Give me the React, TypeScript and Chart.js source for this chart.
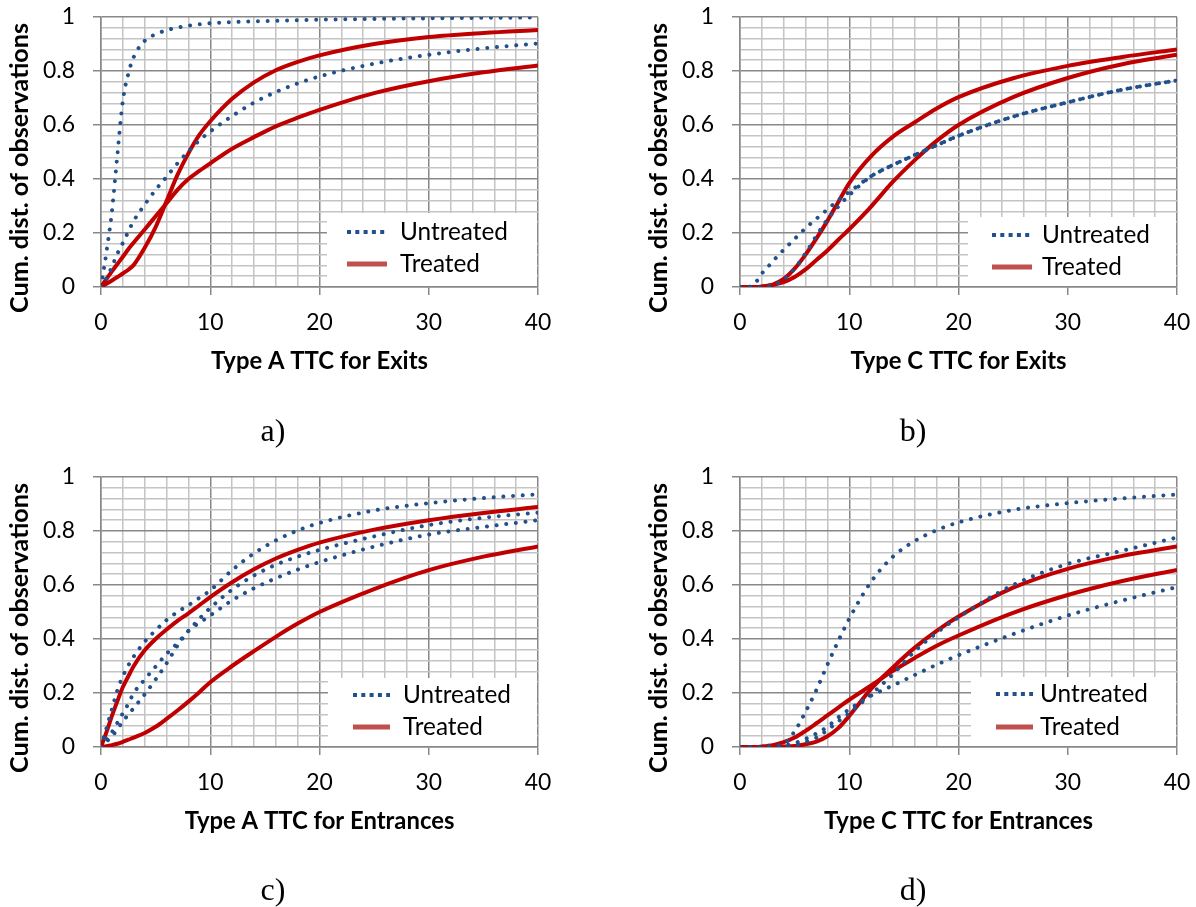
import React, { useEffect, useRef } from 'react';
import { Chart, registerables } from 'chart.js';

Chart.register(...registerables);

// ---------------- data ----------------
const X_VALUES = [0, 0.5, 1, 1.5, 2, 2.5, 3, 4, 5, 6, 7, 8, 9, 10, 12, 14, 16, 18, 20, 25, 30, 35, 40];

// a) Type A TTC for Exits
const A_UNTREATED_1 = [0, 0.13, 0.28, 0.49, 0.69, 0.79, 0.852, 0.912, 0.936, 0.951, 0.961, 0.968, 0.973, 0.977, 0.981, 0.984, 0.986, 0.988, 0.99, 0.993, 0.995, 0.997, 0.998];
const A_UNTREATED_2 = [0, 0.03, 0.075, 0.123, 0.163, 0.205, 0.245, 0.305, 0.36, 0.408, 0.458, 0.502, 0.543, 0.576, 0.633, 0.683, 0.722, 0.754, 0.78, 0.827, 0.86, 0.884, 0.902];
const A_TREATED_1 = [0, 0.012, 0.024, 0.037, 0.05, 0.064, 0.082, 0.145, 0.222, 0.318, 0.415, 0.495, 0.563, 0.614, 0.697, 0.758, 0.803, 0.834, 0.858, 0.9, 0.926, 0.941, 0.952];
const A_TREATED_2 = [0, 0.03, 0.058, 0.085, 0.112, 0.14, 0.165, 0.213, 0.262, 0.31, 0.36, 0.4, 0.43, 0.458, 0.512, 0.555, 0.595, 0.627, 0.656, 0.718, 0.762, 0.795, 0.82];

// b) Type C TTC for Exits
const B_UNTREATED_1 = [0, 0, 0.003, 0.02, 0.05, 0.072, 0.095, 0.138, 0.178, 0.218, 0.253, 0.287, 0.322, 0.352, 0.41, 0.452, 0.489, 0.525, 0.56, 0.631, 0.684, 0.731, 0.765];
const B_UNTREATED_2 = [0, 0, 0, 0, 0, 0.002, 0.006, 0.028, 0.068, 0.125, 0.19, 0.25, 0.298, 0.34, 0.41, 0.452, 0.489, 0.525, 0.56, 0.631, 0.684, 0.731, 0.765];
const B_TREATED_1 = [0, 0, 0, 0, 0.001, 0.004, 0.009, 0.03, 0.068, 0.12, 0.18, 0.245, 0.315, 0.385, 0.485, 0.557, 0.61, 0.661, 0.703, 0.773, 0.819, 0.852, 0.88];
const B_TREATED_2 = [0, 0, 0, 0, 0.002, 0.005, 0.008, 0.018, 0.037, 0.065, 0.1, 0.135, 0.175, 0.214, 0.298, 0.39, 0.47, 0.541, 0.6, 0.703, 0.774, 0.825, 0.86];

// c) Type A TTC for Entrances
const C_UNTREATED_1 = [0, 0.07, 0.14, 0.21, 0.262, 0.302, 0.335, 0.39, 0.432, 0.47, 0.5, 0.525, 0.552, 0.58, 0.655, 0.717, 0.765, 0.802, 0.83, 0.876, 0.903, 0.922, 0.936];
const C_UNTREATED_2 = [0, 0.03, 0.055, 0.09, 0.125, 0.16, 0.2, 0.25, 0.298, 0.345, 0.385, 0.43, 0.475, 0.515, 0.583, 0.635, 0.675, 0.705, 0.73, 0.78, 0.822, 0.849, 0.868];
const C_UNTREATED_3 = [0, 0.02, 0.04, 0.065, 0.095, 0.12, 0.145, 0.195, 0.25, 0.31, 0.375, 0.43, 0.46, 0.487, 0.543, 0.588, 0.625, 0.657, 0.685, 0.742, 0.787, 0.815, 0.84];
const C_TREATED_1 = [0, 0.055, 0.115, 0.17, 0.222, 0.262, 0.3, 0.358, 0.4, 0.435, 0.467, 0.495, 0.525, 0.555, 0.61, 0.658, 0.698, 0.73, 0.757, 0.805, 0.84, 0.867, 0.889];
const C_TREATED_2 = [0, 0.003, 0.007, 0.012, 0.019, 0.027, 0.035, 0.052, 0.075, 0.104, 0.135, 0.168, 0.203, 0.24, 0.3, 0.355, 0.408, 0.457, 0.5, 0.585, 0.655, 0.705, 0.743];

// d) Type C TTC for Entrances
const D_UNTREATED_1 = [0, 0, 0, 0, 0, 0.002, 0.005, 0.012, 0.058, 0.13, 0.212, 0.305, 0.393, 0.475, 0.612, 0.705, 0.763, 0.803, 0.832, 0.878, 0.903, 0.921, 0.935];
const D_UNTREATED_2 = [0, 0, 0, 0, 0, 0, 0, 0.002, 0.006, 0.018, 0.035, 0.063, 0.095, 0.125, 0.195, 0.27, 0.355, 0.423, 0.48, 0.6, 0.678, 0.727, 0.776];
const D_UNTREATED_3 = [0, 0, 0, 0, 0, 0, 0.001, 0.005, 0.014, 0.03, 0.05, 0.075, 0.11, 0.14, 0.19, 0.228, 0.267, 0.305, 0.34, 0.418, 0.487, 0.543, 0.592];
const D_TREATED_1 = [0, 0, 0, 0, 0.002, 0.004, 0.007, 0.018, 0.035, 0.06, 0.088, 0.117, 0.146, 0.175, 0.228, 0.282, 0.33, 0.375, 0.413, 0.497, 0.563, 0.615, 0.656];
const D_TREATED_2 = [0, 0, 0, 0, 0, 0, 0.001, 0.002, 0.004, 0.01, 0.02, 0.04, 0.07, 0.115, 0.215, 0.295, 0.368, 0.43, 0.483, 0.59, 0.66, 0.708, 0.743];

const LEGEND_LABELS = ['Untreated', 'Treated'];
const Y_TITLE = 'Cum. dist. of observations';
const X_TITLES = ['Type A TTC for Exits', 'Type C TTC for Exits', 'Type A TTC for Entrances', 'Type C TTC for Entrances'];
const CAPTIONS = ['a)', 'b)', 'c)', 'd)'];
const X_MIN = 0;
const X_MAX = 40;
const X_STEP = 2;
const X_LABEL_STEP = 10;
const Y_MIN = 0;
const Y_MAX = 1;
const Y_STEP = 0.04;
const Y_LABEL_STEP = 0.2;

const PANELS = [
  { title: X_TITLES[0], untreated: [A_UNTREATED_1, A_UNTREATED_2], treated: [A_TREATED_1, A_TREATED_2] },
  { title: X_TITLES[1], untreated: [B_UNTREATED_1, B_UNTREATED_2], treated: [B_TREATED_1, B_TREATED_2] },
  { title: X_TITLES[2], untreated: [C_UNTREATED_1, C_UNTREATED_2, C_UNTREATED_3], treated: [C_TREATED_1, C_TREATED_2] },
  { title: X_TITLES[3], untreated: [D_UNTREATED_1, D_UNTREATED_2, D_UNTREATED_3], treated: [D_TREATED_1, D_TREATED_2] },
];

// ---------------- layout / style ----------------
const CW = 598;
const CH = 453;
const LAYOUT = [
  { ox: 0, oy: 0, left: 101, right: 538, top: 17, bottom: 287, lg: { box: [226, -74], sx: [246, 286], tx: 299, rows: [-55, -23] } },
  { ox: 598, oy: 0, left: 142, right: 579, top: 17, bottom: 287, lg: { box: [228, -70], sx: [252, 292], tx: 302, rows: [-52, -20] } },
  { ox: 0, oy: 453, left: 101, right: 538, top: 24, bottom: 294, lg: { box: [227, -69], sx: [252, 289], tx: 302, rows: [-52, -20] } },
  { ox: 598, oy: 453, left: 142, right: 579, top: 24, bottom: 294, lg: { box: [231, -70], sx: [256, 293], tx: 300, rows: [-53, -20] } },
];
const CAPTION_POS = [[273, 430], [913, 430], [273, 889], [913, 889]];

const FONT = 'Lato, "Noto Sans", sans-serif';
const BLUE = '#21508c';
const RED = '#c00000';
const LEGEND_RED = '#c0504d';
const MAJOR = '#888888';
const MINOR = '#c4c4c4';

function fitSize(text: string, weight: string, target: number) {
  const c = document.createElement('canvas').getContext('2d')!;
  c.font = `${weight} 100px ${FONT}`;
  return (100 * target) / c.measureText(text).width;
}

const isMultiple = (v: number, step: number) => Math.abs(v / step - Math.round(v / step)) < 1e-6;

function Panel({ idx }: { idx: number }) {
  const ref = useRef<HTMLCanvasElement>(null);
  useEffect(() => {
    const L = LAYOUT[idx];
    const P = PANELS[idx];
    const tickSize = fitSize('0.8', 'normal', 32);
    const xTitleSize = fitSize(X_TITLES[0], 'bold', 217);
    const yTitleSize = fitSize(Y_TITLE, 'bold', 290);
    const legendSize = fitSize(LEGEND_LABELS[0], 'normal', 108);

    const datasets: any[] = [];
    P.untreated.forEach((ys) => {
      datasets.push({
        data: X_VALUES.map((x, i) => ({ x, y: ys[i] })),
        borderColor: BLUE,
        borderWidth: 4,
        borderDash: [0.01, 9.7],
        borderCapStyle: 'round',
        pointRadius: 0,
        cubicInterpolationMode: 'monotone',
        fill: false,
      });
    });
    P.treated.forEach((ys) => {
      datasets.push({
        data: X_VALUES.map((x, i) => ({ x, y: ys[i] })),
        borderColor: RED,
        borderWidth: 4,
        borderCapStyle: 'butt',
        pointRadius: 0,
        cubicInterpolationMode: 'monotone',
        fill: false,
      });
    });

    const decor = {
      id: 'decor',
      afterDraw(chart: any) {
        const { ctx, chartArea: ca } = chart;
        ctx.save();
        ctx.fillStyle = '#000';
        // y title
        ctx.save();
        ctx.translate(ca.left - 81, (ca.top + ca.bottom) / 2 + 16);
        ctx.rotate(-Math.PI / 2);
        ctx.font = `bold ${yTitleSize}px ${FONT}`;
        ctx.textAlign = 'center';
        ctx.textBaseline = 'middle';
        ctx.fillText(Y_TITLE, 0, 0);
        ctx.restore();
        // x title
        ctx.font = `bold ${xTitleSize}px ${FONT}`;
        ctx.textAlign = 'center';
        ctx.textBaseline = 'alphabetic';
        ctx.fillText(P.title, (ca.left + ca.right) / 2, ca.bottom + 82);
        // legend
        const lg = L.lg;
        const bx = ca.left + lg.box[0];
        const by = ca.bottom + lg.box[1];
        ctx.fillStyle = '#fff';
        ctx.fillRect(bx, by, ca.right - 1 - bx, ca.bottom - 1 - by);
        const y1 = ca.bottom + lg.rows[0];
        const y2 = ca.bottom + lg.rows[1];
        ctx.lineWidth = 4;
        ctx.strokeStyle = BLUE;
        ctx.setLineDash([4, 4.3]);
        ctx.lineCap = 'butt';
        ctx.beginPath();
        ctx.moveTo(ca.left + lg.sx[0], y1);
        ctx.lineTo(ca.left + lg.sx[1], y1);
        ctx.stroke();
        ctx.setLineDash([]);
        ctx.lineWidth = 5;
        ctx.strokeStyle = LEGEND_RED;
        ctx.beginPath();
        ctx.moveTo(ca.left + lg.sx[0], y2);
        ctx.lineTo(ca.left + lg.sx[1], y2);
        ctx.stroke();
        ctx.fillStyle = '#000';
        ctx.font = `${legendSize}px ${FONT}`;
        ctx.textAlign = 'left';
        ctx.textBaseline = 'middle';
        ctx.fillText(LEGEND_LABELS[0], ca.left + lg.tx, y1);
        ctx.fillText(LEGEND_LABELS[1], ca.left + lg.tx, y2);
        ctx.restore();
      },
    };

    const chart = new Chart(ref.current!, {
      type: 'line',
      data: { datasets },
      options: {
        animation: false,
        responsive: false,
        maintainAspectRatio: false,
        events: [],
        layout: { padding: { left: 0, top: L.top, right: CW - L.right, bottom: 0 } },
        plugins: { legend: { display: false }, tooltip: { enabled: false } },
        scales: {
          x: {
            type: 'linear',
            min: X_MIN,
            max: X_MAX,
            afterFit: (s: any) => {
              s.height = CH - L.bottom;
              s.paddingLeft = 0;
              s.paddingRight = 0;
            },
            ticks: {
              stepSize: X_STEP,
              autoSkip: false,
              maxRotation: 0,
              maxTicksLimit: 100,
              padding: 14,
              color: '#000',
              font: { family: FONT, size: tickSize },
              callback: (v: any) => (isMultiple(v, X_LABEL_STEP) ? String(v) : ''),
            },
            grid: {
              color: (c: any) => (c.tick && isMultiple(c.tick.value, X_LABEL_STEP) ? MAJOR : MINOR),
              tickColor: (c: any) => (c.tick && isMultiple(c.tick.value, X_LABEL_STEP) ? MAJOR : 'rgba(0,0,0,0)'),
              lineWidth: 1.5,
              tickLength: 8,
            },
            border: { color: MAJOR, width: 1.5 },
          },
          y: {
            type: 'linear',
            min: Y_MIN,
            max: Y_MAX,
            afterFit: (s: any) => {
              s.width = L.left;
              s.paddingTop = 0;
              s.paddingBottom = 0;
            },
            ticks: {
              stepSize: Y_STEP,
              autoSkip: false,
              maxTicksLimit: 100,
              padding: 18,
              color: '#000',
              font: { family: FONT, size: tickSize },
              callback: (v: any) => {
                if (!isMultiple(v, Y_LABEL_STEP)) return '';
                if (Math.abs(v) < 1e-9) return '0';
                if (Math.abs(v - 1) < 1e-9) return '1';
                return Number(v).toFixed(1);
              },
            },
            grid: {
              color: (c: any) => (c.tick && isMultiple(c.tick.value, Y_LABEL_STEP) ? MAJOR : MINOR),
              tickColor: (c: any) => (c.tick && isMultiple(c.tick.value, Y_LABEL_STEP) ? MAJOR : 'rgba(0,0,0,0)'),
              lineWidth: 1.5,
              tickLength: 8,
            },
            border: { color: MAJOR, width: 1.5 },
          },
        },
      } as any,
      plugins: [decor],
    });
    return () => chart.destroy();
  }, [idx]);
  const L = LAYOUT[idx];
  return (
    <canvas
      ref={ref}
      width={CW}
      height={CH}
      style={{ position: 'absolute', left: L.ox, top: L.oy, width: CW, height: CH }}
    />
  );
}

export default function App() {
  return (
    <div style={{ position: 'fixed', left: 0, top: 0, width: 1196, height: 907, background: '#fff', overflow: 'hidden' }}>
      {PANELS.map((_, i) => (
        <Panel key={i} idx={i} />
      ))}
      {CAPTIONS.map((c, i) => (
        <div
          key={c}
          style={{
            position: 'absolute',
            left: CAPTION_POS[i][0] - 40,
            top: CAPTION_POS[i][1] - 20,
            width: 80,
            height: 40,
            lineHeight: '40px',
            textAlign: 'center',
            fontFamily: '"Liberation Serif", "Times New Roman", serif',
            fontSize: 32,
            color: '#000',
          }}
        >
          {c}
        </div>
      ))}
    </div>
  );
}
